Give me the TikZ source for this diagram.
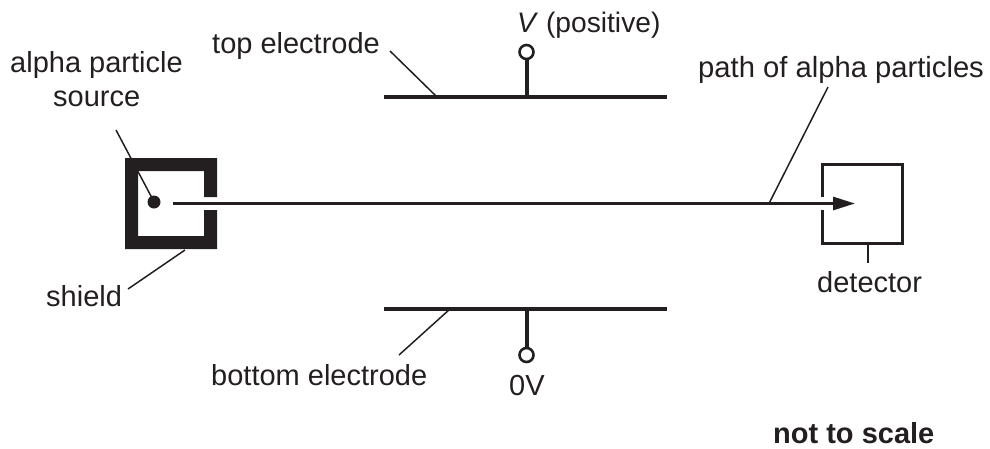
\documentclass[tikz,border=0pt]{standalone}
\usepackage{fontspec}
\setmainfont{Liberation Sans}
\usetikzlibrary{arrows.meta}
\definecolor{ink}{HTML}{231F20}
\tikzset{
  lab/.style={inner sep=0pt,text=ink,font=\fontsize{29}{33}\selectfont,anchor=base west},
  leader/.style={draw=ink,line width=1.5pt},
  heavy/.style={draw=ink,line width=4pt},
  terminal/.style={circle,draw=ink,line width=2.6pt,fill=white,minimum size=14pt,inner sep=0pt},
  wall/.style={fill=ink,draw=none},
}
\begin{document}
\begin{tikzpicture}[x=1pt,y=-1pt]
\useasboundingbox (0,0) rectangle (990,448);
% shield
\fill[wall] (125,158) -- (217,158) -- (217,197) -- (204,197) -- (204,171) -- (138,171) -- (138,236) -- (204,236) -- (204,210) -- (217,210) -- (217,249) -- (125,249) -- cycle;
% source
\node[circle,fill=ink,minimum size=13pt,inner sep=0pt] (src) at (154,202) {};
% detector
\draw[draw=ink,line width=3pt] (822.5,197) -- (822.5,164.5) -- (902.5,164.5) -- (902.5,243) -- (822.5,243) -- (822.5,210);
% path
\coordinate (pstart) at (173,203.5);
\coordinate (ptip) at (855,203.5);
\coordinate (pjoin) at (769,203.5);
\draw[draw=ink,line width=3pt,-{Triangle[length=22pt,width=13pt,fill=ink]}] (pstart) -- (ptip);
% electrodes
\coordinate (tl) at (384,97); \coordinate (tr) at (667,97);
\coordinate (bl) at (384,309); \coordinate (br) at (667,309);
\coordinate (tj) at (526.5,97); \coordinate (bj) at (526.5,309);
\draw[heavy] (tl) -- (tr);
\draw[heavy] (bl) -- (br);
\node[terminal] (tv) at (526.5,52) {};
\node[terminal] (bv) at (526.5,355) {};
\draw[heavy] (tj) -- (tv);
\draw[heavy] (bj) -- (bv);
% labels
\node[lab,font=\fontsize{28.2}{33}\selectfont] (vlab) at (517,32) {\textit{V} (positive)};
\node[lab] (toplab) at (212,53) {top electrode};
\node[lab] (alab) at (10,72) {alpha particle};
\node[lab] (slab) at (53,106) {source};
\node[lab] (shlab) at (46,306) {shield};
\node[lab] (botlab) at (211,385) {bottom electrode};
\node[lab] (zero) at (509,395) {0V};
\node[lab,font=\fontsize{29.2}{33}\selectfont] (plab) at (698,77) {path of alpha particles};
\node[lab] (dlab) at (817,292) {detector};
\node[lab,font=\fontsize{29}{33}\selectfont\bfseries] (nts) at (773,443) {not to scale};
% leaders
\coordinate (l1a) at (390,51); \coordinate (l1b) at (436,96);
\coordinate (l2a) at (399,355); \coordinate (l2b) at (450,309);
\coordinate (l3a) at (116,130); \coordinate (l3b) at (152,198);
\coordinate (l4a) at (128,289); \coordinate (l4b) at (185,250);
\coordinate (l5a) at (828,87);
\coordinate (l6a) at (868,245); \coordinate (l6b) at (868,263);
\draw[leader] (l1a) -- (l1b);
\draw[leader] (l2a) -- (l2b);
\draw[leader] (l3a) -- (l3b);
\draw[leader] (l4a) -- (l4b);
\draw[leader] (l5a) -- (pjoin);
\draw[leader] (l6a) -- (l6b);
\end{tikzpicture}
\end{document}
